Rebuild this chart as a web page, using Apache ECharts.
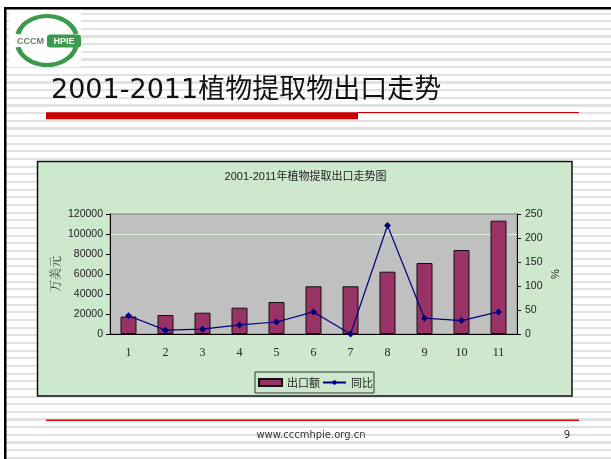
<!DOCTYPE html>
<html>
<head>
<meta charset="utf-8">
<script src="https://cdn.jsdelivr.net/npm/echarts@6/dist/echarts.min.js"></script>
<style>
html, body { margin: 0; padding: 0; background: #fff; }
.slide { position: relative; width: 611px; height: 459px; overflow: hidden; }
.stripes {
    position: absolute; left: 6px; top: 9px; right: 0; bottom: 0;
    background: repeating-linear-gradient(to bottom, #fff 0px, #fff 3.5px, #e2e2e2 3.5px, #e2e2e2 5.6px, #fff 5.6px, #fff 7.66px);
}
#main { position: absolute; left: 0; top: 0; width: 611px; height: 459px; }
</style>
</head>
<body>
<div class="slide">
    <div class="stripes"></div>
    <div id="main"></div>
</div>
<script>
// 年份序号 2001-2011
var categories = ['1', '2', '3', '4', '5', '6', '7', '8', '9', '10', '11'];
// 出口额 (万美元)
var exportValues = [17500, 19000, 21300, 26300, 32000, 47700, 47700, 62300, 71000, 84000, 113300];
// 同比 (%)
var growthRates = [38, 8, 10, 19, 25, 46, 0, 226, 33, 28, 46];
var leftTicks = [0, 20000, 40000, 60000, 80000, 100000, 120000];
var rightTicks = [0, 50, 100, 150, 200, 250];

var chart = echarts.init(document.getElementById('main'));

var serif = '"Liberation Serif", "Noto Serif CJK SC", "Noto Sans CJK SC", serif';
var sans = '"Liberation Sans", "Noto Sans CJK SC", sans-serif';

chart.setOption({
    backgroundColor: 'transparent',
    animation: false,
    graphic: [
        // slide border
        { type: 'rect', z: -20, shape: { x: 4, y: 7, width: 620, height: 2.5 }, style: { fill: '#000' } },
        { type: 'rect', z: -20, shape: { x: 4, y: 7, width: 2.5, height: 460 }, style: { fill: '#000' } },
        // logo
        { type: 'rect', z: -20, shape: { x: 9, y: 12, width: 72, height: 55 }, style: { fill: '#fff' } },
        {
            type: 'arc', z: -19, x: 47, y: 40, scaleY: 0.8,
            shape: { cx: 0, cy: 0, r: 30, startAngle: Math.PI * 1.08, endAngle: Math.PI * 1.92 },
            style: { stroke: '#3c9a4c', lineWidth: 5, fill: 'none' }
        },
        {
            type: 'arc', z: -19, x: 47, y: 41, scaleY: 0.8,
            shape: { cx: 0, cy: 0, r: 30, startAngle: Math.PI * 0.08, endAngle: Math.PI * 0.92 },
            style: { stroke: '#3c9a4c', lineWidth: 5, fill: 'none' }
        },
        { type: 'rect', z: -18, shape: { x: 13, y: 35, width: 35, height: 12 }, style: { fill: '#fff' } },
        { type: 'rect', z: -18, shape: { x: 47, y: 34.5, width: 34, height: 13, r: 3 }, style: { fill: '#3c9a4c' } },
        {
            type: 'text', z: -17, x: 30.5, y: 41.5,
            style: { text: 'CCCM', fill: '#6b7f6b', font: 'bold 9px "Liberation Sans", sans-serif', align: 'center', verticalAlign: 'middle' }
        },
        {
            type: 'text', z: -17, x: 64, y: 41.5,
            style: { text: 'HPIE', fill: '#fff', font: 'bold 9px "Liberation Sans", sans-serif', align: 'center', verticalAlign: 'middle' }
        },
        // slide title
        {
            type: 'text', z: -17, x: 51, y: 91,
            style: {
                text: '2001-2011植物提取物出口走势', fill: '#111',
                font: '27px "DejaVu Sans", "Noto Sans CJK SC", sans-serif',
                align: 'left', verticalAlign: 'middle'
            }
        },
        { type: 'rect', z: -17, shape: { x: 46, y: 112.3, width: 312, height: 7 }, style: { fill: '#cc0000' } },
        { type: 'rect', z: -17, shape: { x: 357, y: 112, width: 222, height: 1 }, style: { fill: '#cc0000' } },
        // chart area box
        {
            type: 'rect', z: -10, shape: { x: 37.5, y: 161.5, width: 534.5, height: 234.5 },
            style: { fill: '#cde8cd', stroke: '#111', lineWidth: 1.5 }
        },
        // footer
        { type: 'rect', z: -17, shape: { x: 46, y: 419.5, width: 533, height: 1.5 }, style: { fill: '#dd0000' } },
        {
            type: 'text', z: -17, x: 311, y: 435,
            style: { text: 'www.cccmhpie.org.cn', fill: '#333', font: '10px "DejaVu Sans", sans-serif', align: 'center', verticalAlign: 'middle' }
        },
        {
            type: 'text', z: -17, x: 567, y: 435,
            style: { text: '9', fill: '#333', font: '10px "DejaVu Sans", sans-serif', align: 'center', verticalAlign: 'middle' }
        }
    ],
    title: {
        text: '2001-2011年植物提取出口走势图',
        left: 'center',
        top: 171,
        padding: 0,
        textStyle: { fontSize: 11, fontWeight: 'normal', color: '#222', fontFamily: sans }
    },
    legend: {
        data: [{ name: '出口额', icon: 'rect' }, { name: '同比' }],
        left: 255,
        top: 372,
        itemWidth: 23,
        itemHeight: 7,
        itemGap: 2,
        padding: [5, 1, 5, 3],
        borderColor: '#333',
        borderWidth: 1,
        textStyle: { fontSize: 11, color: '#222', fontFamily: '"Noto Sans CJK SC", sans-serif' }
    },
    grid: {
        left: 110,
        top: 214,
        width: 407,
        height: 120,
        show: true,
        backgroundColor: '#c0c0c0',
        borderColor: '#808080',
        borderWidth: 1
    },
    xAxis: {
        type: 'category',
        data: categories,
        axisLine: { lineStyle: { color: '#000', width: 1 } },
        axisTick: { length: 4, lineStyle: { color: '#000' } },
        axisLabel: { margin: 13, fontSize: 12, color: '#222', fontFamily: serif }
    },
    yAxis: [{
        type: 'value',
        position: 'left',
        min: leftTicks[0],
        max: leftTicks[leftTicks.length - 1],
        interval: leftTicks[1] - leftTicks[0],
        name: '万美元',
        nameLocation: 'middle',
        nameGap: 47,
        nameRotate: 90,
        nameMoveOverlap: false,
        nameTextStyle: { fontSize: 12, color: '#333', fontFamily: serif },
        axisLine: { show: true, lineStyle: { color: '#000' } },
        axisTick: { show: true, length: 4, lineStyle: { color: '#000' } },
        axisLabel: { margin: 7, fontSize: 10.5, color: '#222', fontFamily: sans, formatter: function (v) { return String(v); } },
        splitLine: {
            show: true,
            lineStyle: { color: ['transparent', 'transparent', 'transparent', 'transparent', 'transparent', '#dcf2dc', 'transparent'], width: 1 }
        }
    }, {
        type: 'value',
        position: 'right',
        min: rightTicks[0],
        max: rightTicks[rightTicks.length - 1],
        interval: rightTicks[1] - rightTicks[0],
        name: '%',
        nameLocation: 'middle',
        nameGap: 33,
        nameRotate: 90,
        nameMoveOverlap: false,
        nameTextStyle: { fontSize: 11, color: '#222', fontFamily: sans },
        axisLine: { show: true, lineStyle: { color: '#000' } },
        axisTick: { show: true, length: 4, lineStyle: { color: '#000' } },
        axisLabel: { margin: 8, fontSize: 10.5, color: '#222', fontFamily: sans },
        splitLine: { show: false }
    }],
    series: [{
        name: '出口额',
        type: 'bar',
        data: exportValues,
        barWidth: 16,
        itemStyle: { color: '#993366', borderColor: '#111', borderWidth: 1 }
    }, {
        name: '同比',
        type: 'line',
        yAxisIndex: 1,
        data: growthRates,
        symbol: 'diamond',
        symbolSize: 7,
        color: '#000080',
        lineStyle: { color: '#000080', width: 1.2 },
        itemStyle: { color: '#000080' }
    }]
});
</script>
</body>
</html>
